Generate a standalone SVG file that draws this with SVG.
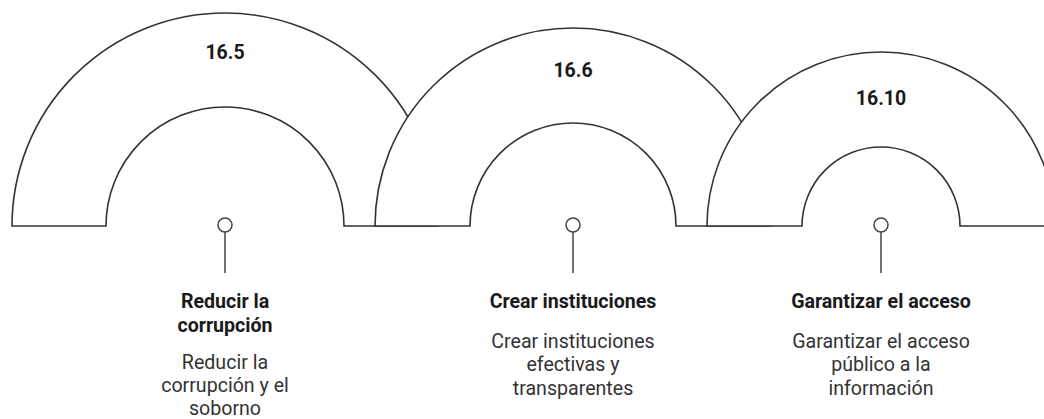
<svg xmlns="http://www.w3.org/2000/svg" width="1044" height="419" viewBox="0 0 1044 419">
<style>
.arch{fill:#ffffff;stroke:#333333;stroke-width:1.6;stroke-linejoin:miter}
.pin{fill:#ffffff;stroke:#444444;stroke-width:1.5}
.stem{stroke:#444444;stroke-width:1.5}
.num{font-family:Roboto,"Liberation Sans",sans-serif;font-size:19.5px;font-weight:700;fill:#1a1a1a;text-anchor:middle}
.title{font-family:Roboto,"Liberation Sans",sans-serif;font-size:19.6px;font-weight:700;fill:#1a1a1a;text-anchor:middle}
.desc{font-family:Roboto,"Liberation Sans",sans-serif;font-size:19.6px;font-weight:400;fill:#333333;text-anchor:middle}
</style>
<rect width="1044" height="419" fill="#ffffff"/>
<g id="node-16-5">
<path class="arch" d="M 12 226 A 213 213 0 0 1 438 226 L 344 226 A 119 119 0 0 0 106 226 Z"/>
<text class="num" x="225" y="59">16.5</text>
</g>
<g id="node-16-6">
<path class="arch" d="M 375 226 A 198 198 0 0 1 771 226 L 676 226 A 103 103 0 0 0 470 226 Z"/>
<text class="num" x="573" y="77">16.6</text>
</g>
<g id="node-16-10">
<path class="arch" d="M 707 226 A 174 174 0 0 1 1055 226 L 960 226 A 79 79 0 0 0 802 226 Z"/>
<text class="num" x="881" y="105">16.10</text>
</g>
<g id="connectors">
<line class="stem" x1="225" y1="232" x2="225" y2="273"/>
<circle class="pin" cx="225" cy="225" r="7"/>
<line class="stem" x1="573" y1="232" x2="573" y2="273"/>
<circle class="pin" cx="573" cy="225" r="7"/>
<line class="stem" x1="881" y1="232" x2="881" y2="273"/>
<circle class="pin" cx="881" cy="225" r="7"/>
</g>
<g id="label-1">
<text class="title" x="225" y="307.5">Reducir la</text>
<text class="title" x="225" y="331.5">corrupción</text>
<text class="desc" x="225" y="368.5">Reducir la</text>
<text class="desc" x="225" y="392">corrupción y el</text>
<text class="desc" x="225" y="415">soborno</text>
</g>
<g id="label-2">
<text class="title" x="573" y="307.5">Crear instituciones</text>
<text class="desc" x="573" y="347.5">Crear instituciones</text>
<text class="desc" x="573" y="371">efectivas y</text>
<text class="desc" x="573" y="394.5">transparentes</text>
</g>
<g id="label-3">
<text class="title" x="881" y="307.5">Garantizar el acceso</text>
<text class="desc" x="881" y="347.5">Garantizar el acceso</text>
<text class="desc" x="881" y="371">público a la</text>
<text class="desc" x="881" y="394.5">información</text>
</g>
</svg>
